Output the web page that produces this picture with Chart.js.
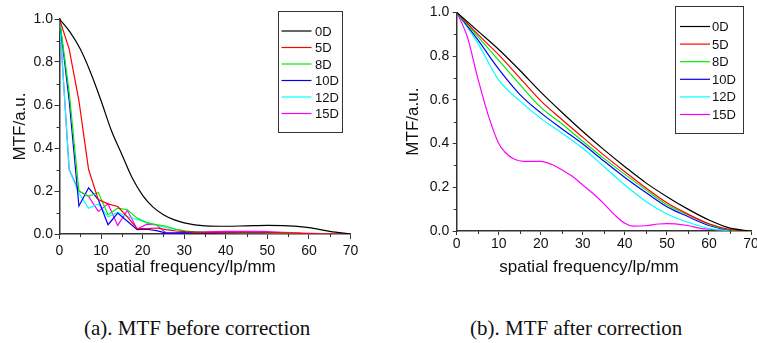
<!DOCTYPE html>
<html>
<head>
<meta charset="utf-8">
<script src="https://cdn.jsdelivr.net/npm/chart.js@4.4.1/dist/chart.umd.min.js"></script>
<style>
  body { margin: 0; background: #fff; }
  #wrap { position: relative; width: 757px; height: 343px; overflow: hidden; background: #fff; }
  canvas { position: absolute; top: 0; }
  .xt { position: absolute; width: 260px; text-align: center; font: 17px "Liberation Sans", Arial, sans-serif; line-height: 20px; color: #111; }
  .cap { position: absolute; font: 21px "Liberation Serif", "Times New Roman", serif; line-height: 21px; color: #111; white-space: nowrap; }
</style>
</head>
<body>
<div id="wrap">
  <canvas id="before" width="370" height="280" style="left:0"></canvas>
  <canvas id="after" width="377" height="280" style="left:380px"></canvas>
  <div class="xt" style="left:56px; top:257px">spatial frequency/lp/mm</div>
  <div class="xt" style="left:459px; top:257px">spatial frequency/lp/mm</div>
  <div class="cap" style="left:84px; top:318px">(a). MTF before correction</div>
  <div class="cap" style="left:470px; top:318px">(b). MTF after correction</div>
</div>
<script>
const labels = ['0D', '5D', '8D', '10D', '12D', '15D']
const colors = ['#000000', '#ff0000', '#00ee00', '#0000ff', '#00ffff', '#ff00ff']

// (a) before correction
const freqA = [0, 2.33, 4.67, 7, 9.33, 11.67, 14, 16.33, 18.67, 21, 23.33, 25.67, 28, 30.33, 32.67, 35, 37.33, 39.67, 42, 44.33, 46.67, 49, 51.33, 53.67, 56, 58.33, 60.67, 63, 65.33, 67.67, 70]
const freqA0 = [0, 2.5, 5, 7.5, 10, 12.5, 15, 17.5, 20, 22.5, 25, 27.5, 30, 35, 40, 45, 50, 55, 60, 65, 70]
const a0D = [1.0, 0.94, 0.86, 0.75, 0.62, 0.48, 0.37, 0.26, 0.18, 0.125, 0.09, 0.067, 0.052, 0.038, 0.036, 0.038, 0.040, 0.038, 0.030, 0.012, 0.0]
const a5D = [1.0, 0.86, 0.62, 0.30, 0.16, 0.14, 0.128, 0.08, 0.025, 0.025, 0.028, 0.02, 0.014, 0.011, 0.009, 0.008, 0.008, 0.008, 0.008, 0.008, 0.007, 0.007, 0.006, 0.005, 0.004, 0.003, 0.002, 0.001, 0.001, 0, 0]
const a8D = [1.0, 0.66, 0.20, 0.175, 0.193, 0.09, 0.12, 0.113, 0.074, 0.052, 0.044, 0.036, 0.022, 0.014, 0.01, 0.008, 0.007, 0.006, 0.006, 0.005, 0.005, 0.005, 0.004, 0.004, 0.003, 0.002, 0.002, 0.001, 0.001, 0, 0]
const a10D = [1.0, 0.62, 0.13, 0.215, 0.16, 0.043, 0.097, 0.059, 0.02, 0.022, 0.016, 0.004, 0.004, 0.005, 0.005, 0.005, 0.005, 0.004, 0.004, 0.004, 0.003, 0.003, 0.003, 0.002, 0.002, 0.002, 0.001, 0.001, 0, 0, 0]
const a12D = [1.0, 0.30, 0.19, 0.12, 0.14, 0.08, 0.10, 0.08, 0.068, 0.054, 0.042, 0.03, 0.02, 0.013, 0.01, 0.008, 0.007, 0.006, 0.005, 0.005, 0.005, 0.004, 0.004, 0.003, 0.003, 0.002, 0.002, 0.001, 0.001, 0, 0]
const a15D = [1.0, 0.30, 0.20, 0.175, 0.105, 0.14, 0.04, 0.11, 0.022, 0.046, 0.042, 0.005, 0.006, 0.008, 0.009, 0.01, 0.011, 0.012, 0.012, 0.012, 0.012, 0.012, 0.01, 0.008, 0.006, 0.004, 0.003, 0.002, 0.001, 0, 0]

// (b) after correction
const freqB = [0, 5, 10, 15, 20, 25, 30, 35, 40, 45, 50, 55, 60, 65, 70]
const b0D = [1.0, 0.915, 0.83, 0.735, 0.635, 0.543, 0.455, 0.372, 0.294, 0.22, 0.157, 0.10, 0.05, 0.013, 0]
const b5D = [1.0, 0.90, 0.805, 0.70, 0.595, 0.51, 0.428, 0.347, 0.271, 0.197, 0.129, 0.077, 0.033, 0.007, 0]
const b8D = [1.0, 0.89, 0.78, 0.67, 0.565, 0.49, 0.41, 0.332, 0.259, 0.188, 0.12, 0.074, 0.03, 0.005, 0]
const b10D = [1.0, 0.875, 0.74, 0.625, 0.54, 0.468, 0.398, 0.32, 0.245, 0.176, 0.111, 0.066, 0.025, 0.004, 0]
const b12D = [1.0, 0.86, 0.69, 0.595, 0.515, 0.448, 0.378, 0.295, 0.21, 0.135, 0.078, 0.04, 0.012, 0.002, 0]
const freqB15 = [0, 2.5, 5, 7.5, 10, 11.5, 13.5, 16, 20, 22.5, 25, 27.5, 30, 32.5, 35, 37.5, 40, 42, 45, 48, 50, 52, 55, 58, 60, 65, 70]
const b15D = [1.0, 0.89, 0.70, 0.53, 0.40, 0.36, 0.33, 0.318, 0.318, 0.305, 0.28, 0.25, 0.21, 0.17, 0.125, 0.075, 0.035, 0.022, 0.024, 0.032, 0.034, 0.033, 0.025, 0.012, 0.008, 0.003, 0]

const tickFont = { family: '"Liberation Sans", Arial, sans-serif', size: 14 }

function pts(xs, ys) {
  return xs.map((x, i) => ({ x: x, y: ys[i] }))
}

// legend drawn as a framed box inside the plot
const boxLegend = {
  id: 'boxLegend',
  afterDraw(chart, args, o) {
    const ctx = chart.ctx
    ctx.save()
    ctx.strokeStyle = '#333'
    ctx.lineWidth = 1
    ctx.strokeRect(o.x + 0.5, o.y + 0.5, o.w, o.h)
    ctx.font = '13px "Liberation Sans", Arial, sans-serif'
    ctx.textBaseline = 'middle'
    chart.data.datasets.forEach((ds, i) => {
      const y = o.rowY + i * o.step
      ctx.strokeStyle = ds.borderColor
      ctx.lineWidth = 1.2
      ctx.beginPath()
      ctx.moveTo(o.lineX, y)
      ctx.lineTo(o.lineX + 30, y)
      ctx.stroke()
      ctx.fillStyle = '#111'
      ctx.fillText(ds.label, o.textX, y + 1)
    })
    ctx.restore()
  }
}

// small ticks between the labelled ones
const minorTicks = {
  id: 'minorTicks',
  afterDraw(chart) {
    const ctx = chart.ctx
    const area = chart.chartArea
    const x = chart.scales.x, y = chart.scales.y
    ctx.save()
    ctx.strokeStyle = '#333'
    ctx.lineWidth = 1
    ctx.beginPath()
    for (let v = 5; v < 70; v += 10) {
      const px = Math.round(x.getPixelForValue(v)) + 0.5
      ctx.moveTo(px, area.bottom)
      ctx.lineTo(px, area.bottom + 3)
    }
    for (let v = 0.1; v < 1; v += 0.2) {
      const py = Math.round(y.getPixelForValue(v)) + 0.5
      ctx.moveTo(area.left, py)
      ctx.lineTo(area.left - 3, py)
    }
    ctx.stroke()
    ctx.restore()
  }
}

function makeChart(id, datasets, s) {
  new Chart(document.getElementById(id), {
    type: 'line',
    data: { datasets: datasets },
    options: {
      responsive: false,
      animation: false,
      devicePixelRatio: 1,
      layout: { padding: { left: 0, right: s.padRight, top: s.padTop, bottom: 0 } },
      elements: { point: { radius: 0 }, line: { borderWidth: 1.2 } },
      plugins: {
        legend: { display: false },
        tooltip: { enabled: false },
        boxLegend: s.legend
      },
      scales: {
        x: {
          type: 'linear',
          min: 0,
          max: 70,
          afterFit(sc) { sc.height = s.xHeight; sc.paddingLeft = 0; sc.paddingRight = 0 },
          border: { display: true, color: '#333', width: 1.5 },
          grid: { drawOnChartArea: false, drawTicks: true, tickLength: s.tick, color: '#333' },
          ticks: { stepSize: 10, color: '#111', font: tickFont, padding: s.xPad, maxRotation: 0 }
        },
        y: {
          min: 0,
          max: 1.0,
          afterFit(sc) { sc.width = s.yWidth; sc.paddingTop = 0; sc.paddingBottom = 0 },
          border: { display: true, color: '#333', width: 1.5 },
          grid: { drawOnChartArea: false, drawTicks: true, tickLength: s.tick, color: '#333' },
          ticks: { stepSize: 0.2, color: '#111', font: tickFont, padding: s.yPad, callback: v => v.toFixed(1) },
          title: {
            display: true,
            text: 'MTF/a.u.',
            color: '#111',
            font: { family: '"Liberation Sans", Arial, sans-serif', size: 17 },
            padding: { top: s.yTitlePad, bottom: 0 }
          }
        }
      }
    },
    plugins: [boxLegend, minorTicks]
  })
}

const seriesA = [pts(freqA0, a0D), pts(freqA, a5D), pts(freqA, a8D), pts(freqA, a10D), pts(freqA, a12D), pts(freqA, a15D)]
makeChart('before', seriesA.map((d, i) => ({
  label: labels[i],
  data: d,
  borderColor: colors[i],
  cubicInterpolationMode: i === 0 ? 'monotone' : 'default',
  tension: 0
})), {
  padRight: 19.5, padTop: 19, xHeight: 46, yWidth: 59.5, tick: 5, xPad: 3.5, yPad: 1.5, yTitlePad: 9.8,
  legend: { x: 278, y: 11, w: 64, h: 121, rowY: 31, step: 16.5, lineX: 281.5, textX: 315 }
})

const seriesB = [pts(freqB, b0D), pts(freqB, b5D), pts(freqB, b8D), pts(freqB, b10D), pts(freqB, b12D), pts(freqB15, b15D)]
makeChart('after', seriesB.map((d, i) => ({
  label: labels[i],
  data: d,
  borderColor: colors[i],
  cubicInterpolationMode: 'monotone'
})), {
  padRight: 6, padTop: 12.3, xHeight: 49, yWidth: 76.7, tick: 4, xPad: 0.5, yPad: 3.5, yTitlePad: 22.8,
  legend: { x: 295, y: 6, w: 68, h: 127, rowY: 26.5, step: 17.6, lineX: 300, textX: 332 }
})
</script>
</body>
</html>
